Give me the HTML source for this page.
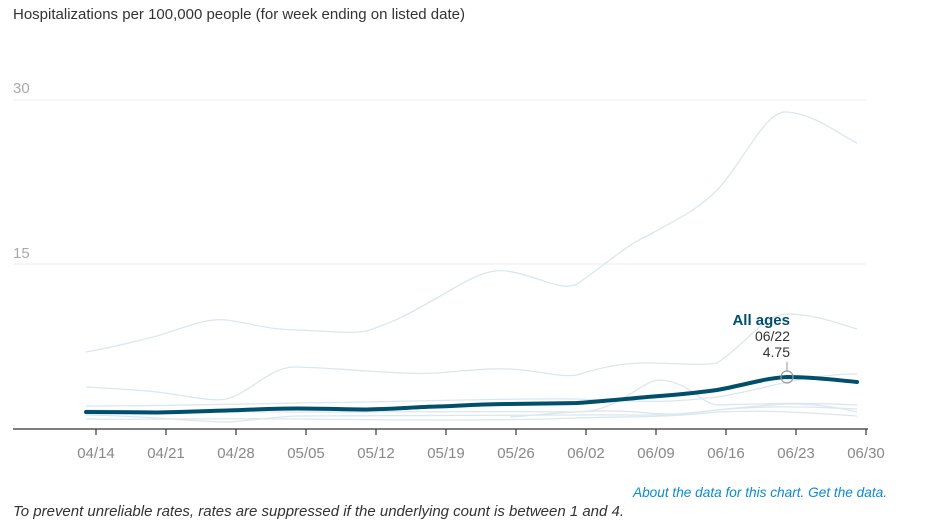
<!DOCTYPE html>
<html><head><style>
body{margin:0;background:#fff;width:932px;height:520px;overflow:hidden;font-family:"Liberation Sans",sans-serif;}
</style></head><body>
<svg width="932" height="520" xmlns="http://www.w3.org/2000/svg" font-family="Liberation Sans, sans-serif">
<text x="13" y="19" font-size="15" fill="#333" textLength="452" lengthAdjust="spacingAndGlyphs">Hospitalizations per 100,000 people (for week ending on listed date)</text>
<line x1="13" y1="100" x2="866" y2="100" stroke="#ececec"/>
<line x1="13" y1="264" x2="866" y2="264" stroke="#ececec"/>
<text x="13" y="93" font-size="15" fill="#aaa">30</text>
<text x="13" y="258" font-size="15" fill="#aaa">15</text>
<g fill="none" stroke="#dbe7ee" stroke-width="1.3">
<path d="M86,352 C120,346 140,340 157,336 C190,326 205,318 227,320 C255,324 270,330 297,330 C330,331 350,334 367,331 C400,320 415,310 437,298 C465,282 485,268 507,271 C540,276 560,292 577,284 C605,265 625,246 647,236 C680,218 700,208 717,190 C745,160 765,110 787,112 C815,114 840,135 857,143"/>
<path d="M86,387 C120,389 140,390 157,392 C190,396 210,402 227,399 C255,390 270,366 297,367 C330,368 350,370 367,371 C400,373 415,374 437,373 C465,371 485,368 507,369 C540,370 560,378 577,375 C605,366 625,363 647,363 C680,363 700,366 717,363 C745,345 765,314 787,314 C815,314 840,324 857,329"/>
<path d="M86,406 C150,406 200,405 297,403 C400,402 500,398 577,399 C640,401 660,404 717,397 C760,391 800,374 857,374"/>
<path d="M86,410 C150,411 200,412 297,412 C400,412 500,411 577,412 C620,412 640,380 660,380 C690,382 700,403 717,405 C760,404 800,402 857,405"/>
<path d="M86,415 C150,416 200,422 227,422 C260,420 270,417 297,416 C400,415 500,416 577,415 C640,414 660,418 717,410 C760,406 800,406 857,409"/>
<path d="M86,419 C150,420 200,418 297,419 C400,420 500,421 577,418 C640,416 660,418 717,412 C760,410 800,412 857,416"/>
<path d="M510,417 C560,413 600,408 647,413 C690,417 700,409 787,404 C820,404 840,408 857,412"/>
</g>
<path d="M86,412 C120,412.3 140,412.5 157,412.5 C190,412 205,411 227,410.5 C255,409.5 275,408.5 297,408.5 C325,408.5 345,409.5 367,409.5 C395,409 415,407 437,406.5 C465,405.5 485,404 507,404 C535,403.5 555,403.5 577,403 C605,401 625,399 647,397 C675,395 695,393 717,390 C745,385 765,378 787,377 C815,377 835,380 857,382" fill="none" stroke="#004f6b" stroke-width="4" stroke-linecap="round"/>
<circle cx="787" cy="377" r="6" fill="none" stroke="#999" stroke-width="1.2"/>
<line x1="787" y1="362" x2="787" y2="371" stroke="#999"/>
<text x="790" y="325" font-size="15" font-weight="bold" fill="#004f6b" text-anchor="end">All ages</text>
<text x="790" y="341" font-size="14" fill="#333" text-anchor="end">06/22</text>
<text x="790" y="357" font-size="14" fill="#333" text-anchor="end">4.75</text>
<line x1="13" y1="429" x2="868" y2="429" stroke="#333" stroke-width="1.2"/>
<g stroke="#333" stroke-width="1.2">
<line x1="96" y1="429" x2="96" y2="435"/><line x1="166" y1="429" x2="166" y2="435"/><line x1="236" y1="429" x2="236" y2="435"/><line x1="306" y1="429" x2="306" y2="435"/><line x1="376" y1="429" x2="376" y2="435"/><line x1="446" y1="429" x2="446" y2="435"/><line x1="516" y1="429" x2="516" y2="435"/><line x1="586" y1="429" x2="586" y2="435"/><line x1="656" y1="429" x2="656" y2="435"/><line x1="726" y1="429" x2="726" y2="435"/><line x1="796" y1="429" x2="796" y2="435"/><line x1="866" y1="429" x2="866" y2="435"/>
</g>
<g font-size="15" fill="#888" text-anchor="middle">
<text x="96" y="458">04/14</text><text x="166" y="458">04/21</text><text x="236" y="458">04/28</text><text x="306" y="458">05/05</text><text x="376" y="458">05/12</text><text x="446" y="458">05/19</text><text x="516" y="458">05/26</text><text x="586" y="458">06/02</text><text x="656" y="458">06/09</text><text x="726" y="458">06/16</text><text x="796" y="458">06/23</text><text x="866" y="458">06/30</text>
</g>
<text x="633" y="497" font-size="14" font-style="italic" fill="#0a8ad0" textLength="254" lengthAdjust="spacingAndGlyphs">About the data for this chart. Get the data.</text>
<text x="13" y="516" font-size="14.5" font-style="italic" fill="#333" textLength="611" lengthAdjust="spacingAndGlyphs">To prevent unreliable rates, rates are suppressed if the underlying count is between 1 and 4.</text>
</svg>
</body></html>
